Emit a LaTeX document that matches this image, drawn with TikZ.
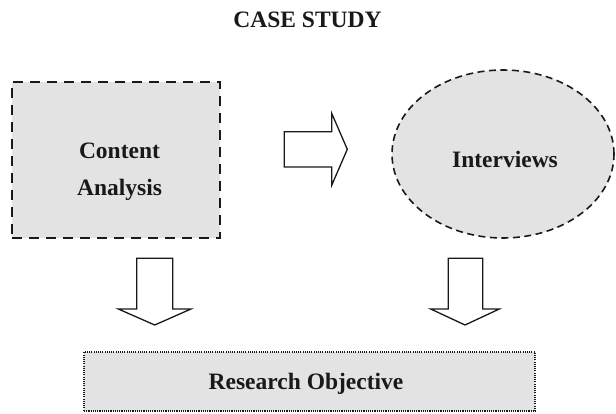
\documentclass[tikz,border=0pt]{standalone}
\usepackage{fontspec}
\setmainfont{Liberation Serif}
\usetikzlibrary{shapes.geometric}
\definecolor{boxgray}{HTML}{E3E3E3}
\begin{document}
\begin{tikzpicture}[x=1pt,y=-1pt,
  lbl/.style={font=\fontsize{23.5}{37}\selectfont\bfseries, inner sep=0pt, align=center, text=black!90},
  dashbox/.style={draw=black!90, fill=boxgray, line width=2.2pt, dash pattern=on 10pt off 7pt, minimum width=208pt, minimum height=156pt, inner sep=0pt},
  dashell/.style={ellipse, draw=black!90, fill=boxgray, line width=1.6pt, dash pattern=on 7pt off 4.5pt, minimum width=222pt, minimum height=168pt, inner sep=0pt},
  dotbox/.style={draw=black!90, fill=boxgray, line width=1.3pt, dash pattern=on 1.1pt off 1.1pt, minimum width=451pt, minimum height=59pt, inner sep=0pt},
  blockarrow/.style={draw=black!90, fill=white, line width=1.3pt, line join=miter}
]
\useasboundingbox (0,0) rectangle (616,414);

% title
\node[lbl, anchor=base] (title) at (307.5,28) {CASE STUDY};

% shapes
\node[dashbox] (ca) at (116,160) {};
\node[lbl] (catext) at (119.5,172) {Content\\Analysis};

\node[dashell] (iv) at (503,154) {};
\node[lbl, anchor=base] (ivtext) at (505,168) {Interviews};

\node[dotbox] (ro) at (309.5,381.5) {};
\node[lbl, anchor=base] (rotext) at (306,389) {Research Objective};

% right block arrow
\coordinate (ra) at (284.3,131.7);
\draw[blockarrow] (ra) -- ++(47.4,0) -- (331.7,113.3) -- (347.3,149.3) -- (331.7,185.3) -- (331.7,167) -- (284.3,167) -- cycle;

% left down block arrow
\coordinate (da1) at (136.7,258.3);
\draw[blockarrow] (da1) -- (172.7,258.3) -- (172.7,309) -- (191,309) -- (154.7,325) -- (118.3,309) -- (136.7,309) -- cycle;

% right down block arrow
\coordinate (da2) at (448.3,258.3);
\draw[blockarrow] (da2) -- (482.7,258.3) -- (482.7,309) -- (499.3,309) -- (465,325) -- (430.7,309) -- (448.3,309) -- cycle;
\end{tikzpicture}
\end{document}
